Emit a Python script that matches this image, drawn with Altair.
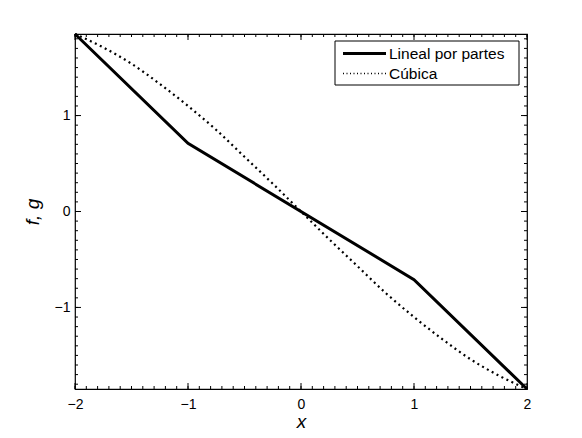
import altair as alt
import pandas as pd
import numpy as np

# Piecewise linear series
pw_x = [-2.0, -1.0, 1.0, 2.0]
pw_y = [1.85, 0.71, -0.71, -1.85]

# Cubic series
cu_x = [-2.0, -1.75, -1.5, -1.25, -1.0, -0.75, -0.5, -0.25, 0.0,
        0.25, 0.5, 0.75, 1.0, 1.25, 1.5, 1.75, 2.0]
cu_y = [1.85, 1.71, 1.54, 1.33, 1.10, 0.85, 0.57, 0.29, 0.0,
        -0.29, -0.57, -0.85, -1.10, -1.33, -1.54, -1.71, -1.85]

series_names = ["Lineal por partes", "Cúbica"]

x_major = [-2, -1, 0, 1, 2]
y_major = [-1, 0, 1]
x_minor = [round(v, 1) for v in np.arange(-2.0, 2.01, 0.1)]
y_minor = [round(v, 1) for v in np.arange(-1.8, 1.81, 0.1)]

W, H = 452, 355
FONT = "Liberation Sans"

pw_df = pd.DataFrame({"x": pw_x, "y": pw_y})
cu_df = pd.DataFrame({"x": cu_x, "y": cu_y})

xs = alt.Scale(domain=[-2, 2], nice=False, zero=False)
ys = alt.Scale(domain=[-1.85, 1.85], nice=False, zero=False)

x_axis = alt.Axis(
    orient="bottom", values=x_major, ticks=False, domain=False, grid=False,
    labelPadding=8, labelFontSize=14, labelFont=FONT, labelColor="black",
    labelFlush=False,
    title="x", titleFont=FONT, titleFontSize=19, titleFontStyle="italic",
    titleFontWeight="normal", titlePadding=1, titleColor="black")
y_axis = alt.Axis(
    orient="left", values=y_major, ticks=False, domain=False, grid=False,
    labelPadding=5, labelFontSize=14, labelFont=FONT, labelColor="black",
    labelFlush=False,
    title="f, g", titleFont=FONT, titleFontSize=19, titleFontStyle="italic",
    titleFontWeight="normal", titlePadding=12, titleColor="black")

pw_line = alt.Chart(pw_df).mark_line(color="black", strokeWidth=3).encode(
    x=alt.X("x:Q", scale=xs, axis=x_axis),
    y=alt.Y("y:Q", scale=ys, axis=y_axis),
)
cu_line = alt.Chart(cu_df).mark_line(
    color="black", strokeWidth=2.2, strokeDash=[2, 3.5], interpolate="monotone"
).encode(
    x=alt.X("x:Q", scale=xs, axis=x_axis),
    y=alt.Y("y:Q", scale=ys, axis=y_axis),
)


def xticks(vals, size):
    d = pd.DataFrame({"x": vals})
    bottom = alt.Chart(d).mark_rule(color="black", strokeWidth=1).encode(
        x=alt.X("x:Q", scale=xs, axis=x_axis),
        y=alt.value(H), y2=alt.value(H - size))
    top = alt.Chart(d).mark_rule(color="black", strokeWidth=1).encode(
        x=alt.X("x:Q", scale=xs, axis=x_axis),
        y=alt.value(0), y2=alt.value(size))
    return [bottom, top]


def yticks(vals, size):
    d = pd.DataFrame({"y": vals})
    left = alt.Chart(d).mark_rule(color="black", strokeWidth=1).encode(
        y=alt.Y("y:Q", scale=ys, axis=y_axis),
        x=alt.value(0), x2=alt.value(size))
    right = alt.Chart(d).mark_rule(color="black", strokeWidth=1).encode(
        y=alt.Y("y:Q", scale=ys, axis=y_axis),
        x=alt.value(W), x2=alt.value(W - size))
    return [left, right]


ticks = xticks(x_minor, 3) + xticks(x_major, 6) + yticks(y_minor, 3) + yticks(y_major, 6)

# Legend (drawn as a box with sample lines and labels)
one = pd.DataFrame({"a": [0]})
LX0, LX1, LY0, LY1 = 260, 444, 7, 51
legend_box = alt.Chart(one).mark_rect(fill="white", stroke="black", strokeWidth=1).encode(
    x=alt.value(LX0), x2=alt.value(LX1), y=alt.value(LY0), y2=alt.value(LY1))
row_y = [19.5, 39.5]
row_styles = [dict(strokeWidth=3), dict(strokeWidth=1.3, strokeDash=[1, 2.5])]
legend_layers = [legend_box]
for name, ry, st in zip(series_names, row_y, row_styles):
    legend_layers.append(
        alt.Chart(one).mark_rule(color="black", **st).encode(
            x=alt.value(268), x2=alt.value(311), y=alt.value(ry)))
    legend_layers.append(
        alt.Chart(one).mark_text(text=name, align="left", baseline="middle",
                                 font=FONT, fontSize=15.5, color="black").encode(
            x=alt.value(314), y=alt.value(ry)))

chart = alt.layer(
    pw_line, cu_line, *ticks, *legend_layers
).properties(
    width=W, height=H,
    autosize=alt.AutoSizeParams(type="none"),
    padding={"left": 67, "top": 26, "right": 40, "bottom": 60},
).configure_view(stroke="black", strokeWidth=1.2)

chart.save("out.html", embed_options={"renderer": "svg", "actions": False})
